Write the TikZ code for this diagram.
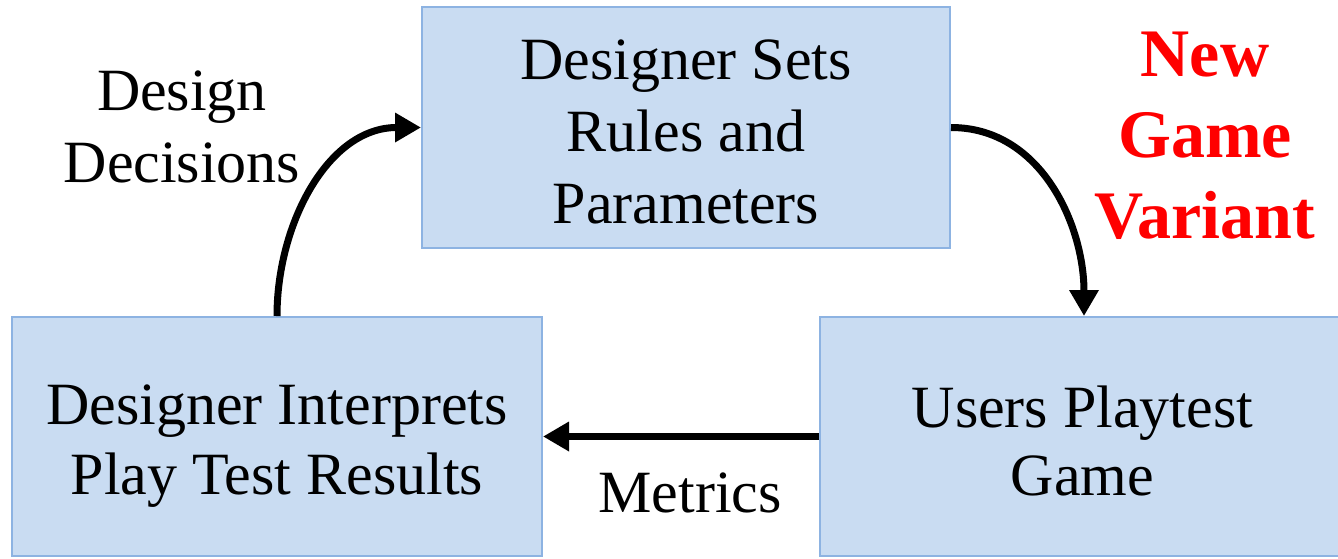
\documentclass[tikz,border=0pt]{standalone}
\usepackage{fontspec}
\setmainfont{Liberation Serif}
\usetikzlibrary{arrows.meta}
\definecolor{boxfill}{HTML}{C9DCF2}
\definecolor{boxline}{HTML}{8DB3E2}
\definecolor{newred}{HTML}{FF0000}
\tikzset{
  stagebox/.style={draw=boxline, fill=boxfill, line width=1pt, inner sep=0pt},
  flowarrow/.style={line width=3.5pt, -{Triangle[length=13pt,width=14pt]}},
  plainlabel/.style={align=center, font=\fontsize{30}{36}\selectfont, inner sep=0pt},
  redlabel/.style={align=center, text=newred, font=\fontsize{34}{40.5}\selectfont\bfseries, inner sep=0pt}
}
\begin{document}
\begin{tikzpicture}[x=0.5pt, y=-0.5pt]
\clip (0,0) rectangle (1338,558);
\useasboundingbox (0,0) rectangle (1338,558);
\fill[white] (0,0) rectangle (1338,558);
\node[stagebox, minimum width=264pt, minimum height=120.5pt] (top) at (686,127.5) {};
\node[stagebox, minimum width=265pt, minimum height=119.5pt] (bl) at (277,436.5) {};
\node[stagebox, minimum width=262.5pt, minimum height=119.5pt] (br) at (1082.5,436.5) {};
\node[plainlabel, font=\fontsize{30}{36}\selectfont] (toptext) at ([yshift=-2pt]top.center)
  {Designer Sets\\Rules and\\Parameters};
\node[plainlabel, font=\fontsize{30}{35}\selectfont] (bltext) at ([yshift=-5pt]bl.center)
  {Designer Interprets\\Play Test Results};
\node[plainlabel, font=\fontsize{30}{34}\selectfont] (brtext) at ([yshift=-2pt]br.center)
  {Users Playtest\\Game};
\node[plainlabel] (dd) at (182,127) {Design\\Decisions};
\node[plainlabel, anchor=base] (met) at (690,512) {Metrics};
\node[redlabel] (ngv) at (1205,136) {New\\Game\\Variant};
\draw[flowarrow] (top.east) to[out=0, in=90] ([xshift=132.5pt]br.north west);
\draw[flowarrow] (br.west) -- (bl.east);
\draw[flowarrow] (bl.north) to[out=90, in=180] (top.west);
\end{tikzpicture}
\end{document}
